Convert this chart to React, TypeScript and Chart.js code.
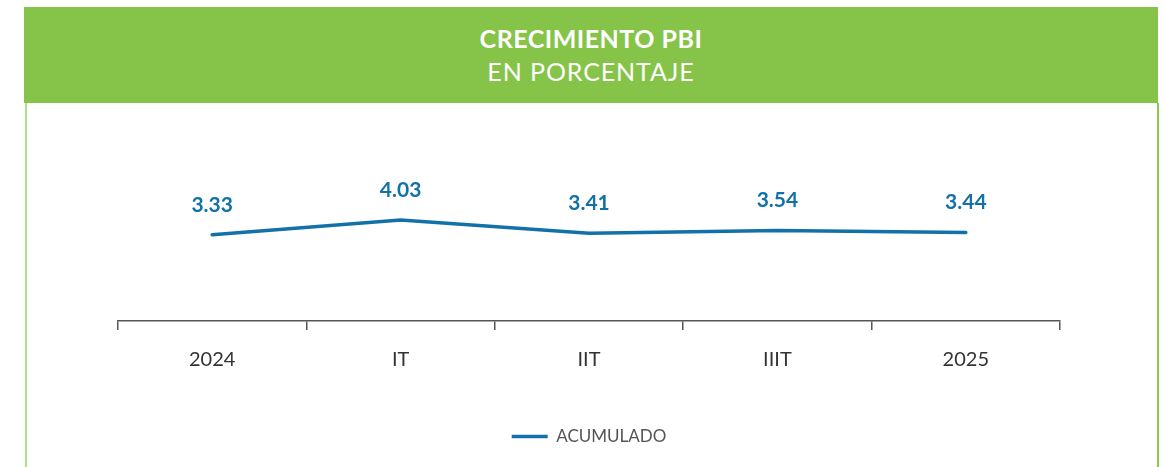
import React, { useEffect, useRef } from "react";
import { Chart, registerables } from "chart.js";

Chart.register(...registerables);

const categories = ["2024", "IT", "IIT", "IIIT", "2025"];
const acumulado = [3.33, 4.03, 3.41, 3.54, 3.44];
const seriesName = "ACUMULADO";
const titleLine1 = "CRECIMIENTO PBI";
const titleLine2 = "EN PORCENTAJE";

const BLUE = "#1271a8";
const GREEN = "#85c449";
const FONT = "Lato, 'Noto Sans', sans-serif";

const valueLabels = {
  id: "valueLabels",
  afterDatasetsDraw(chart: any) {
    const ctx = chart.ctx;
    const meta = chart.getDatasetMeta(0);
    const data = chart.data.datasets[0].data as number[];
    ctx.save();
    ctx.font = `bold 21px ${FONT}`;
    ctx.fillStyle = BLUE;
    ctx.textAlign = "center";
    ctx.textBaseline = "middle";
    meta.data.forEach((pt: any, i: number) => {
      ctx.fillText(data[i].toFixed(2), pt.x, pt.y - 30);
    });
    ctx.restore();
  },
};

export default function App() {
  const ref = useRef<HTMLCanvasElement>(null);
  useEffect(() => {
    if (!ref.current) return;
    const chart = new Chart(ref.current, {
      type: "line",
      data: {
        labels: categories,
        datasets: [
          {
            label: seriesName,
            data: acumulado,
            borderColor: BLUE,
            backgroundColor: BLUE,
            borderWidth: 3.5,
            borderCapStyle: "round",
            pointRadius: 0,
            tension: 0,
          },
        ],
      },
      options: {
        animation: false,
        responsive: false,
        maintainAspectRatio: false,
        layout: { padding: { left: 91, right: 97, top: 0, bottom: 12 } },
        plugins: {
          tooltip: { enabled: false },
          title: { display: false },
          legend: {
            display: true,
            position: "bottom",
            labels: {
              usePointStyle: true,
              pointStyle: "line",
              pointStyleWidth: 36,
              boxHeight: 3,
              color: "#555555",
              font: { family: FONT, size: 17 },
              padding: 38,
            },
          },
        },
        scales: {
          x: {
            type: "category",
            offset: true,
            grid: {
              offset: true,
              drawOnChartArea: false,
              drawTicks: true,
              tickLength: 9,
              color: "#555555",
              lineWidth: 1.5,
            },
            border: { display: true, color: "#555555", width: 1.5 },
            ticks: {
              color: "#333333",
              font: { family: FONT, size: 20 },
              padding: 18,
            },
          },
          y: {
            display: false,
            min: -0.7,
            max: 9.5,
          },
        },
      },
      plugins: [valueLabels],
    });
    return () => chart.destroy();
  }, []);

  return (
    <div style={{ position: "absolute", left: 0, top: 0, width: 1164, height: 467, background: "#fff", overflow: "hidden" }}>
      <div
        style={{
          position: "absolute",
          left: 24,
          top: 7,
          width: 1134,
          height: 96,
          background: GREEN,
          color: "#fff",
          display: "flex",
          flexDirection: "column",
          alignItems: "center",
          justifyContent: "center",
          fontFamily: FONT,
          fontSize: 25,
          lineHeight: "33px",
        }}
      >
        <div style={{ fontWeight: 700, letterSpacing: 0.5 }}>{titleLine1}</div>
        <div style={{ fontWeight: 400, letterSpacing: 0.9 }}>{titleLine2}</div>
      </div>
      <div style={{ position: "absolute", left: 25, top: 103, width: 2, height: 364, background: "#b0e08a" }} />
      <div style={{ position: "absolute", left: 1157, top: 103, width: 2, height: 364, background: "#8cc84b" }} />
      <canvas
        ref={ref}
        width={1130}
        height={364}
        style={{ position: "absolute", left: 27, top: 103, width: 1130, height: 364 }}
      />
    </div>
  );
}
